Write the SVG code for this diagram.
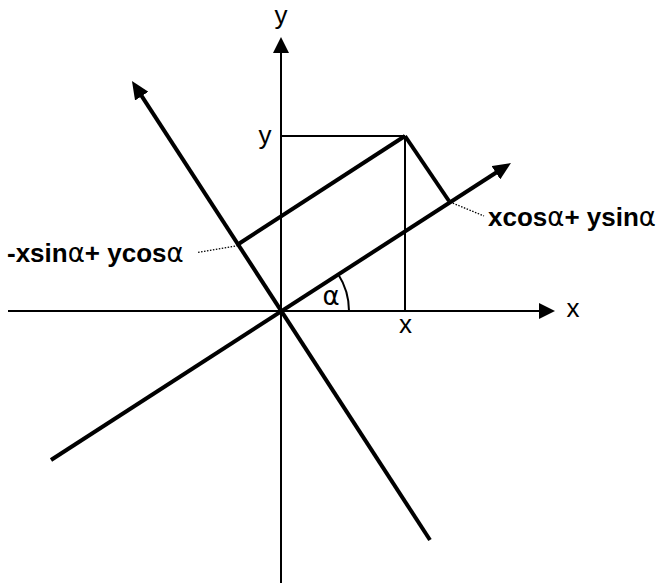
<svg xmlns="http://www.w3.org/2000/svg" width="660" height="583" viewBox="0 0 660 583">
<style>
.thin{stroke:#000;stroke-width:2;fill:none}
.thick{stroke:#000;stroke-width:4;fill:none}
.dot{stroke:#000;stroke-width:1.3;stroke-dasharray:1.5 1.5;fill:none}
.lbl{font-family:"Liberation Sans",Arial,sans-serif;font-size:26px;fill:#000}
.bold{font-family:"Liberation Sans",Arial,sans-serif;font-size:26px;font-weight:bold;fill:#000}
.greek{font-family:"DejaVu Sans",sans-serif;font-weight:normal;font-size:26px}
.greekb{font-family:"DejaVu Sans",sans-serif;font-weight:bold;font-size:25px}
</style>
<defs>
<marker id="ahThin" markerUnits="userSpaceOnUse" markerWidth="16" markerHeight="16" viewBox="0 -8 16 16" refX="6" refY="0" orient="auto">
<path d="M0,-8 L16,0 L0,8 z" fill="#000"/>
</marker>
<marker id="ahThick" markerUnits="userSpaceOnUse" markerWidth="18" markerHeight="16" viewBox="0 -8 18 16" refX="6" refY="0" orient="auto">
<path d="M0,-8 L18,0 L0,8 z" fill="#000"/>
</marker>
</defs>
<g id="connectors">
<line id="x-axis" class="thin" x1="8" y1="311" x2="545" y2="311" marker-end="url(#ahThin)"/>
<line id="y-axis" class="thin" x1="281" y1="583" x2="281" y2="47" marker-end="url(#ahThin)"/>
<line id="x-prime-axis" class="thick" x1="51" y1="460" x2="500.9" y2="169.5" marker-end="url(#ahThick)"/>
<line id="y-prime-axis" class="thick" x1="430" y1="540" x2="138.5" y2="91.1" marker-end="url(#ahThick)"/>
<line class="thin" x1="281" y1="136" x2="405" y2="136"/>
<line class="thin" x1="405" y1="136" x2="405" y2="311"/>
<line class="thick" x1="449" y1="201" x2="405" y2="136"/>
<line class="thick" x1="405" y1="136" x2="238.5" y2="244"/>
<line class="dot" x1="450" y1="202" x2="484" y2="216"/>
<line class="dot" x1="238" y1="245.5" x2="198" y2="252.5"/>
<path class="thin" d="M349,311 A68,68 0 0 0 338.2,274.2"/>
</g>
<g id="label-y-axis"><text class="lbl" x="281" y="23.5" text-anchor="middle">y</text></g>
<g id="label-y-value"><text class="lbl" x="265" y="144" text-anchor="middle">y</text></g>
<g id="label-x-axis"><text class="lbl" x="573" y="317" text-anchor="middle">x</text></g>
<g id="label-x-value"><text class="lbl" x="405.5" y="333" text-anchor="middle">x</text></g>
<g id="label-alpha"><text class="lbl" x="331" y="305" text-anchor="middle"><tspan class="greek">α</tspan></text></g>
<g id="label-xprime"><text class="bold" x="488" y="226">xcos<tspan class="greek">α</tspan>+ ysin<tspan class="greek">α</tspan></text></g>
<g id="label-yprime"><text class="bold" x="7" y="262">-xsin<tspan class="greek">α</tspan>+ ycos<tspan class="greek">α</tspan></text></g>
</svg>
